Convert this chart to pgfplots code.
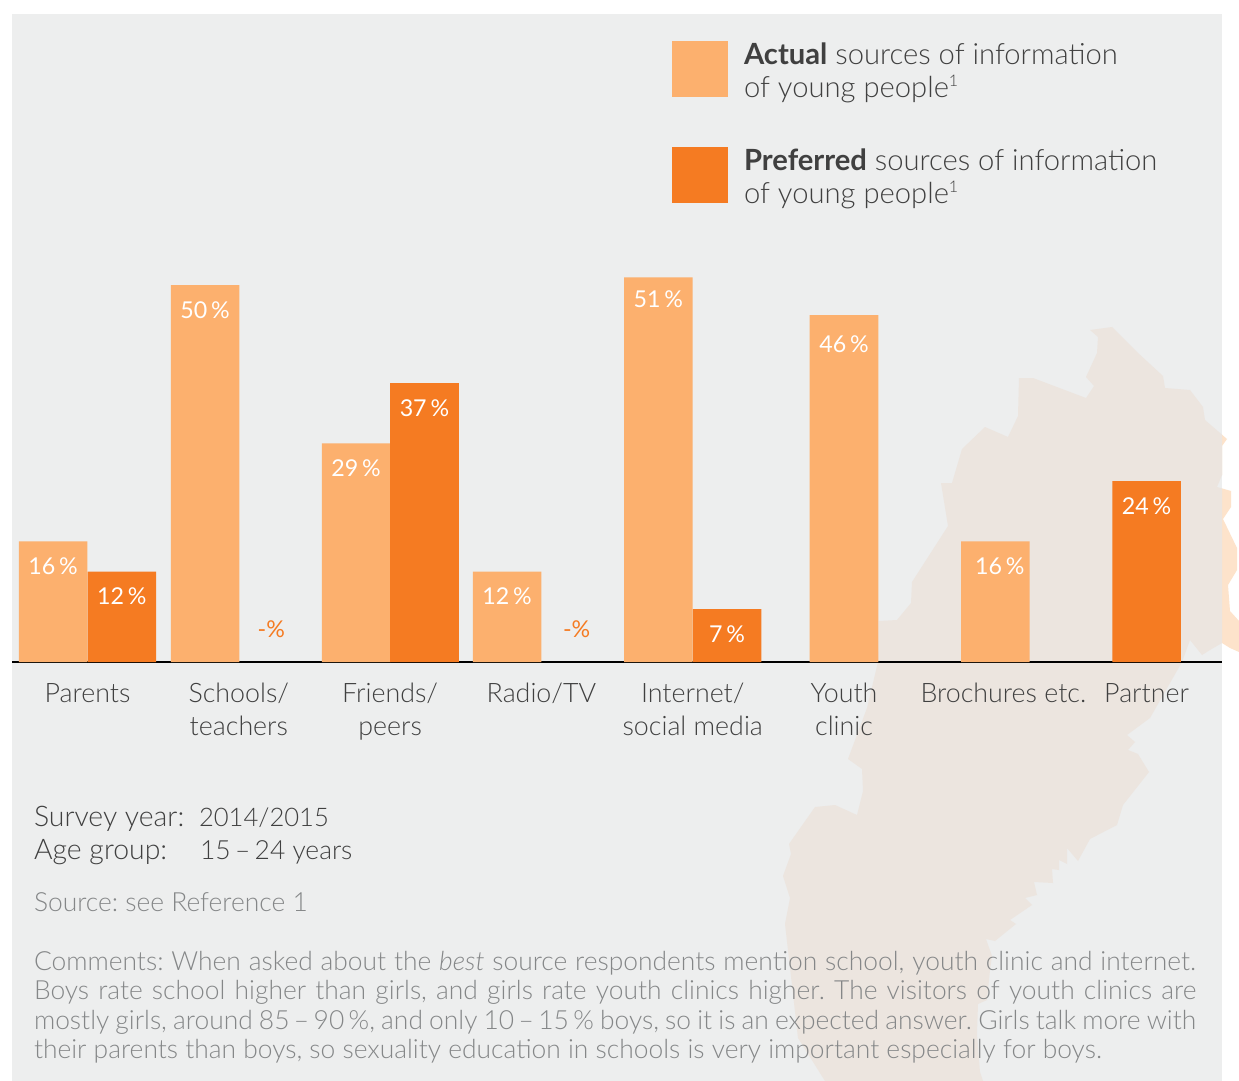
\documentclass[border=0pt]{standalone}
\usepackage{fontspec}
\setmainfont{Lato Light}[BoldFont=Lato Bold,ItalicFont=Lato Light Italic]
\newfontfamily\labelfont{Lato}
\usepackage{pgfplots}
\pgfplotsset{compat=1.18}

\definecolor{panel}{HTML}{EDEEEE}
\definecolor{actual}{HTML}{FCB06E}
\definecolor{preferred}{HTML}{F57B22}
\definecolor{mapin}{HTML}{ECE5DF}
\definecolor{mapout}{HTML}{FDE3CB}
\definecolor{ink}{HTML}{404040}
\definecolor{note}{HTML}{858788}

\newcommand{\fn}{\raisebox{5.5pt}{\fontsize{8}{8}\selectfont 1}}

\def\mapshape{(1090,330) -- (1112,327) -- (1137,352) -- (1163,376) -- (1165,388) -- (1190,390)
  -- (1203,407) -- (1205,420) -- (1227,439) -- (1222,446) -- (1222,475) -- (1217,487)
  -- (1231,491) -- (1231,507) -- (1223,519) -- (1237,548) -- (1237,570) -- (1228,585)
  -- (1230,611) -- (1239,621) -- (1239,652) -- (1230,648) -- (1222,643) -- (1210,650)
  -- (1202,655) -- (1190,640) -- (1182,662) -- (1150,718) -- (1127,735) -- (1135,742)
  -- (1128,750) -- (1138,754) -- (1149,772) -- (1123,805) -- (1117,825) -- (1090,839)
  -- (1078,861) -- (1067,848) -- (1067,864) -- (1059,860) -- (1059,870) -- (1052,869)
  -- (1053,883) -- (1034,882) -- (1037,895) -- (1025,898) -- (1032,905) -- (1010,920)
  -- (1016,924) -- (995,941) -- (986,939) -- (992,956) -- (990,970) -- (987,1000)
  -- (978,1004) -- (977,1034) -- (980,1072) -- (983,1081) -- (825,1081) -- (798,1038)
  -- (785,924) -- (790,898) -- (783,876) -- (791,854) -- (789,844) -- (815,807)
  -- (835,805) -- (857,815) -- (863,791) -- (862,769) -- (848,759) -- (867,708)
  -- (878,662) -- (879,621) -- (897,620) -- (911,603) -- (912,582) -- (948,526)
  -- (941,483) -- (952,483) -- (962,449) -- (985,427) -- (1008,437) -- (1018,416)
  -- (1019,378) -- (1033,378) -- (1086,398) -- (1094,386) -- (1086,377) -- (1097,353)
  -- (1098,337) -- cycle}

\begin{document}
\frenchspacing
\begin{tikzpicture}
\begin{scope}[x=0.5pt,y=-0.5pt]
\path[use as bounding box] (0,0) rectangle (1239,1081);
\fill[white] (0,0) rectangle (1239,1081);
\fill[mapout] \mapshape;
\fill[panel] (12,14) rectangle (1222,1081);
\begin{scope}
  \clip (12,14) rectangle (1222,1081);
  \fill[mapin] \mapshape;
\end{scope}
\end{scope}

\begin{axis}[
    at={(6pt,-331pt)}, anchor=south west,
    scale only axis,
    width=605pt, height=324pt,
    xmin=-0.499, xmax=7.498,
    ymin=0, ymax=85.94,
    axis y line=none,
    axis x line*=bottom,
    axis line style={black, line width=0.6pt},
    major tick length=0pt,
    xtick={0,1,2,3,4,5,6.053,7},
    xticklabels={Parents,Schools/\\teachers,Friends/\\peers,Radio/TV,Internet/\\social media,Youth\\clinic,Brochures etc.,Partner},
    xticklabel style={align=center, text=ink, inner sep=0pt, yshift=-10.5pt,
        font=\fontsize{13.4}{16.5}\selectfont},
    bar width=0.4534,
    ybar, bar shift=0pt,
    point meta=explicit symbolic,
    nodes near coords,
    nodes near coords style={anchor=center, yshift=-12.5pt, text=white,
        font=\labelfont\fontsize{11.6}{15}\selectfont, inner sep=0pt},
    legend style={at={(0.5455,0.9576)}, anchor=north west, draw=none, fill=none,
        inner sep=0pt, outer sep=0pt, row sep=23.5pt, column sep=8pt,
        nodes={inner sep=0pt, outer sep=0pt, anchor=west},
        font=\fontsize{14.6}{16.5}\selectfont, text=ink,
        cells={align=left, anchor=west}},
    legend cell align=left,
    legend image code/.code={\fill[#1] (0pt,-13pt) rectangle (28pt,15pt);},
]
\addplot[draw=none, fill=actual,
    coordinate style/.condition={y==46}{yshift=-2pt},
    coordinate style/.condition={y==51}{yshift=1.5pt},
    coordinate style/.condition={x==6}{xshift=2.2pt}] coordinates {
    (-0.227,16) [16\,\%]
    (0.777,50) [50\,\%]
    (1.775,29) [29\,\%]
    (2.773,12) [12\,\%]
    (3.773,51) [51\,\%]
    (5,46) [46\,\%]
    (6,16) [16\,\%]
};
\addlegendentry{\textbf{Actual} sources of information\\of young people\fn}

\addplot[draw=none, fill=preferred] coordinates {
    (0.227,12) [12\,\%]
    (2.227,37) [37\,\%]
    (4.227,7) [7\,\%]
    (7,24) [24\,\%]
};
\addlegendentry{\textbf{Preferred} sources of information\\of young people\fn}

\node[text=preferred, font=\labelfont\fontsize{11.6}{15}\selectfont] at (axis cs:1.215,4.4) {-\%};
\node[text=preferred, font=\labelfont\fontsize{11.6}{15}\selectfont] at (axis cs:3.233,4.4) {-\%};
\end{axis}

\begin{scope}[x=0.5pt,y=-0.5pt,every node/.style={anchor=base west, inner sep=0pt, outer sep=0pt}]
\node[text=ink, font=\fontsize{14.2}{18}\selectfont] at (34,826) {Survey year:};
\node[text=ink, font=\fontsize{12.8}{18}\selectfont] at (199,826) {2014/2015};
\node[text=ink, font=\fontsize{14.2}{18}\selectfont] at (34,859) {Age group:};
\node[text=ink, font=\fontsize{13.2}{18}\selectfont] at (200,859) {15\,–\,24 years};
\node[text=note, font=\fontsize{13.2}{16}\selectfont] at (34,911) {Source: see Reference 1};
\node[text=note, font=\fontsize{13.2}{16}\selectfont] at (34,970) {\makebox[581pt][s]{Comments: When asked about the \textit{best} source respondents mention school, youth clinic and internet.}};
\node[text=note, font=\fontsize{13.2}{16}\selectfont] at (34,999.5) {\makebox[581pt][s]{Boys rate school higher than girls, and girls rate youth clinics higher. The visitors of youth clinics are}};
\node[text=note, font=\fontsize{13.2}{16}\selectfont] at (34,1029) {\makebox[581pt][s]{mostly girls, around 85\,–\,90\,\%, and only 10\,–\,15\,\% boys, so it is an expected answer. Girls talk more with}};
\node[text=note, font=\fontsize{13.2}{16}\selectfont] at (34,1058) {their parents than boys, so sexuality education in schools is very important especially for boys.};
\end{scope}
\end{tikzpicture}
\end{document}
